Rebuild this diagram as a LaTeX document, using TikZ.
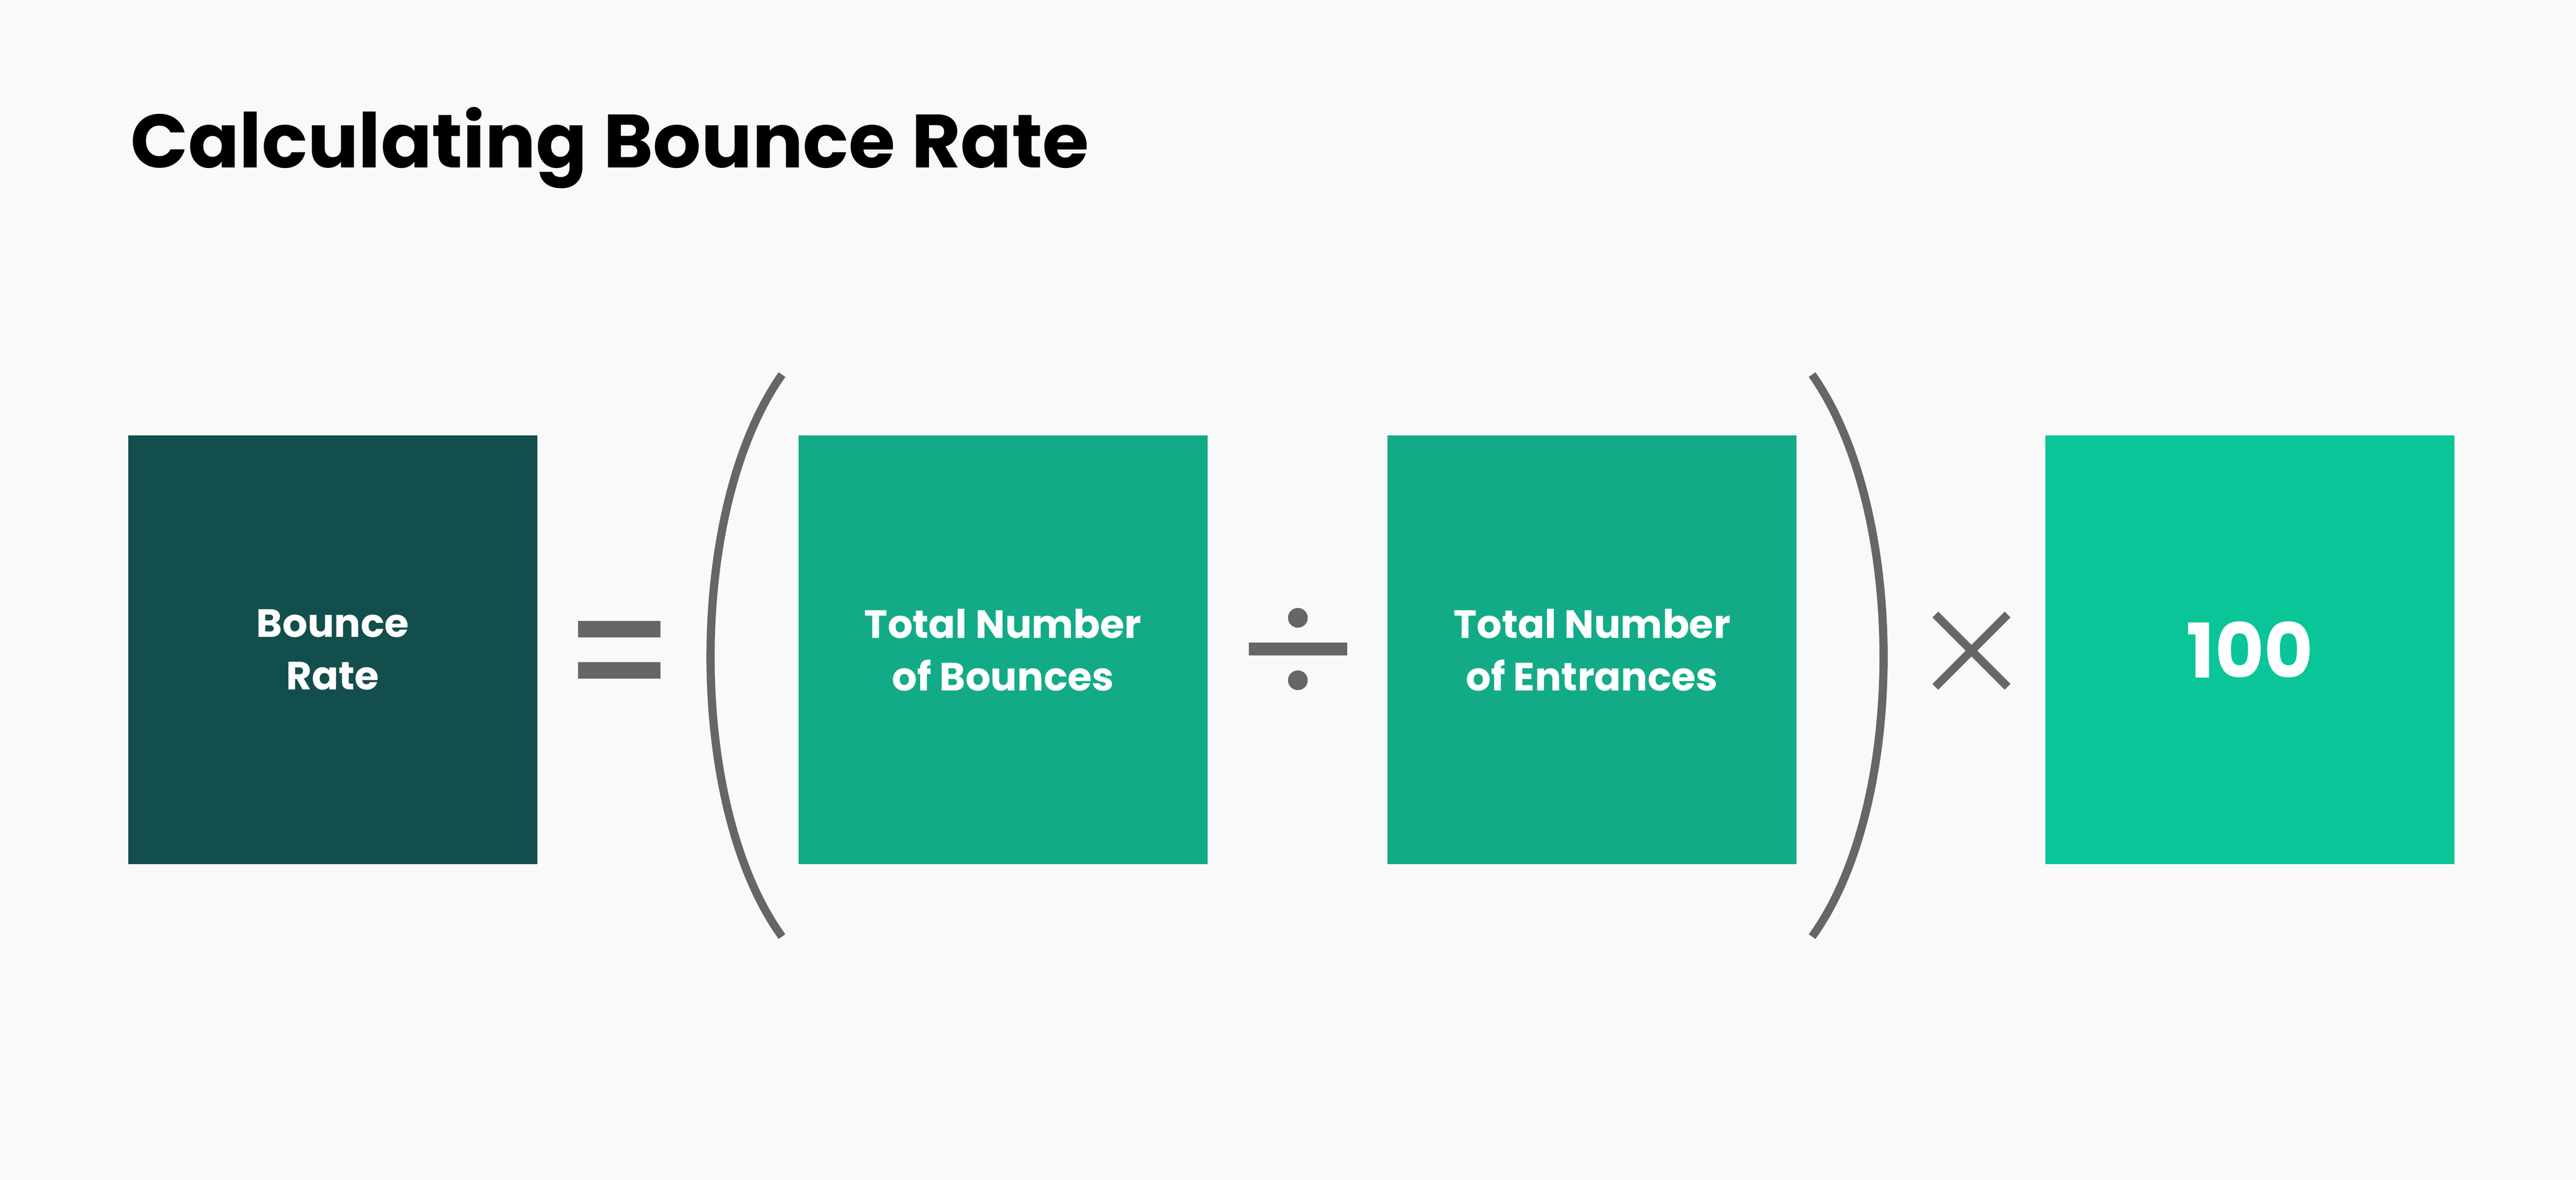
\documentclass[tikz,border=0pt]{standalone}
\usepackage{fontspec}
\setmainfont{Poppins}
\definecolor{bg}{HTML}{F9F9F9}
\definecolor{dark}{HTML}{124E4C}
\definecolor{mid}{HTML}{13AB87}
\definecolor{bright}{HTML}{0AC597}
\definecolor{op}{HTML}{666666}
\begin{document}
\begin{tikzpicture}[x=1pt,y=-1pt,
  box/.style={minimum width=249pt,minimum height=261pt,inner sep=0pt,text=white,align=center,font=\fontsize{24}{32}\selectfont\bfseries},
  opline/.style={draw=op,line width=5pt}]
\fill[bg] (0,0) rectangle (1568,718);
\useasboundingbox (0,0) rectangle (1568,718);
\node[anchor=west,font=\fontsize{46}{50}\selectfont\bfseries] (title) at (76,90) {Calculating Bounce Rate};
\node[box,fill=dark] (b1) at (202.5,395.5) {Bounce\\Rate};
\node[box,fill=mid] (b2) at (610.5,395.5) {Total Number\\of Bounces};
\node[box,fill=mid] (b3) at (969,395.5) {Total Number\\of Entrances};
\node[box,fill=bright,font=\fontsize{46}{50}\selectfont\bfseries] (b4) at (1369.5,395.5) {100};
% equals
\fill[op] (352,378) rectangle (402,388);
\fill[op] (352,403) rectangle (402,413);
% parens
\coordinate (lp1) at (476,228); \coordinate (lp2) at (476,570);
\coordinate (rp1) at (1103,228); \coordinate (rp2) at (1103,570);
\draw[opline] (lp1) .. controls (418,310) and (418,490) .. (lp2);
\draw[opline] (rp1) .. controls (1161,310) and (1161,490) .. (rp2);
% divide
\fill[op] (760,391) rectangle (820,399);
\fill[op] (790,376) circle (6);
\fill[op] (790,414) circle (6);
% times
\coordinate (t1) at (1178,374); \coordinate (t2) at (1222,418);
\coordinate (t3) at (1178,418); \coordinate (t4) at (1222,374);
\draw[opline] (t1) -- (t2);
\draw[opline] (t3) -- (t4);
\end{tikzpicture}
\end{document}
